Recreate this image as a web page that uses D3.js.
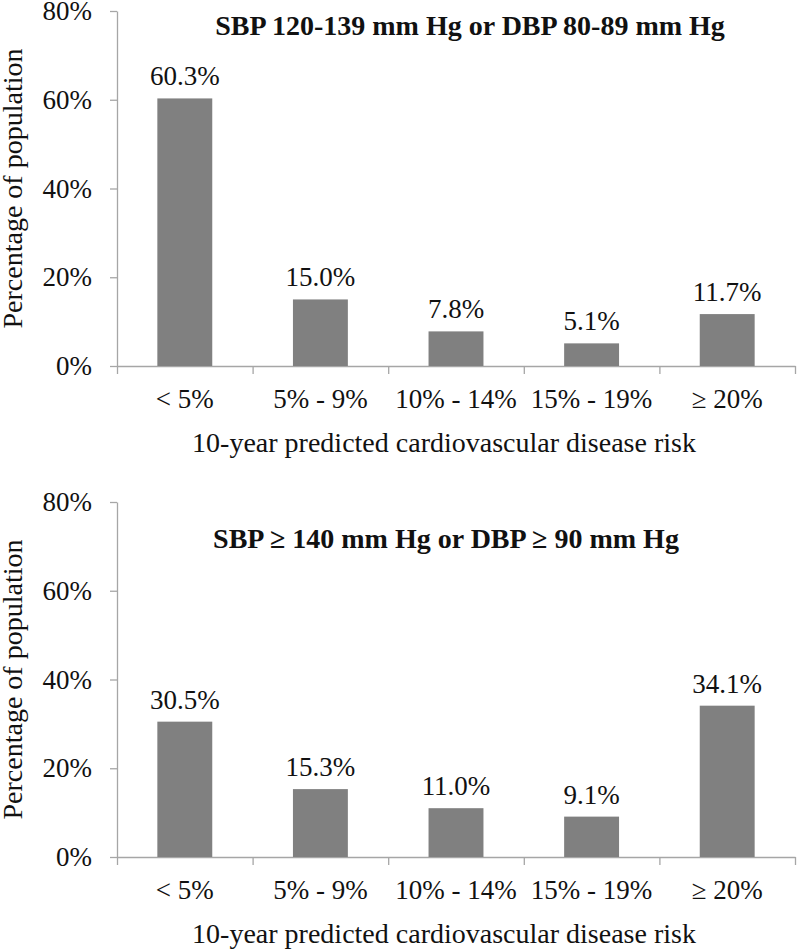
<!DOCTYPE html>
<html>
<head>
<meta charset="utf-8">
<script src="https://cdn.jsdelivr.net/npm/d3@7"></script>
<style>
  html, body { margin: 0; padding: 0; background: #fff; }
  svg { display: block; }
  svg text { font-family: "Liberation Serif", Tinos, "Times New Roman", Times, "Noto Serif", "DejaVu Serif", serif !important; fill: #111; }
</style>
</head>
<body>
<svg id="chart" width="800" height="950"></svg>
<script>
// ---- Data ----
const categories = ["< 5%", "5% - 9%", "10% - 14%", "15% - 19%", "\u2265 20%"];
const prehypertensionValues = [60.3, 15.0, 7.8, 5.1, 11.7];
const hypertensionValues = [30.5, 15.3, 11.0, 9.1, 34.1];
const panelTitles = ["SBP 120-139 mm Hg or DBP 80-89 mm Hg", "SBP \u2265 140 mm Hg or DBP \u2265 90 mm Hg"];
const yTicks = [0, 20, 40, 60, 80];
const yAxisTitle = "Percentage of population";
const xAxisTitle = "10-year predicted cardiovascular disease risk";

// ---- Layout ----
const svg = d3.select("#chart");
const left = 117, right = 795;
const FS = 27;
const FS_T = 28;
const SERIF = '"Liberation Serif", Tinos, "Times New Roman", Times, "Noto Serif", "DejaVu Serif", serif';
const axisColor = "#a6a6a6";
const barColor = "#808080";

function drawPanel(values, title, top, bottom, titleY, titleX) {
  const g = svg.append("g").attr("font-family", SERIF);
  const y = d3.scaleLinear().domain([0, 80]).range([bottom, top]);
  const x = d3.scaleBand().domain(categories).range([left, right])
    .paddingInner(0.595).paddingOuter(0.2975);
  const xb = d3.scaleLinear().domain([0, categories.length]).range([left, right]);

  // y axis
  const ya = g.append("g").attr("transform", `translate(${left},0)`)
    .call(d3.axisLeft(y).tickValues(yTicks).tickSize(7).tickSizeOuter(0)
      .tickPadding(18).tickFormat(d => d + "%"));
  ya.attr("font-family", SERIF);
  ya.selectAll("text").attr("font-size", FS).attr("fill", "#111");
  ya.selectAll("line,path").attr("stroke", axisColor).attr("stroke-width", 1.3);

  // x boundary axis
  const xa = g.append("g").attr("transform", `translate(0,${bottom})`)
    .call(d3.axisBottom(xb).tickValues(d3.range(categories.length + 1)).tickSize(8)
      .tickSizeOuter(0).tickFormat(""));
  xa.selectAll("line,path").attr("stroke", axisColor).attr("stroke-width", 1.3);

  // category labels
  const xl = g.append("g").attr("transform", `translate(0,${bottom})`)
    .call(d3.axisBottom(x).tickSize(0).tickPadding(23));
  xl.attr("font-family", SERIF);
  xl.select(".domain").remove();
  xl.selectAll("text").attr("font-size", FS).attr("fill", "#111");

  // bars
  g.selectAll("rect.bar").data(values).join("rect")
    .attr("class", "bar")
    .attr("x", (d, i) => x(categories[i]))
    .attr("width", x.bandwidth())
    .attr("y", d => y(d))
    .attr("height", d => y(0) - y(d))
    .attr("fill", barColor);

  // value labels
  g.selectAll("text.val").data(values).join("text")
    .attr("class", "val")
    .attr("x", (d, i) => x(categories[i]) + x.bandwidth() / 2)
    .attr("y", d => y(d) - 13)
    .attr("text-anchor", "middle")
    .attr("font-size", FS)
    .text(d => d.toFixed(1) + "%");

  // title
  g.append("text").attr("x", titleX).attr("y", titleY)
    .attr("text-anchor", "middle").attr("font-size", FS_T).attr("font-weight", "bold")
    .text(title);

  // y axis title
  g.append("text")
    .attr("transform", `translate(22,${(top + bottom) / 2}) rotate(-90)`)
    .attr("text-anchor", "middle").attr("font-size", FS_T)
    .text(yAxisTitle);

  // x axis title
  g.append("text").attr("x", 444).attr("y", bottom + 86)
    .attr("text-anchor", "middle").attr("font-size", FS_T)
    .text(xAxisTitle);
}

drawPanel(prehypertensionValues, panelTitles[0], 11, 366, 35, 470);
drawPanel(hypertensionValues, panelTitles[1], 502, 857, 548, 446);
</script>
</body>
</html>
